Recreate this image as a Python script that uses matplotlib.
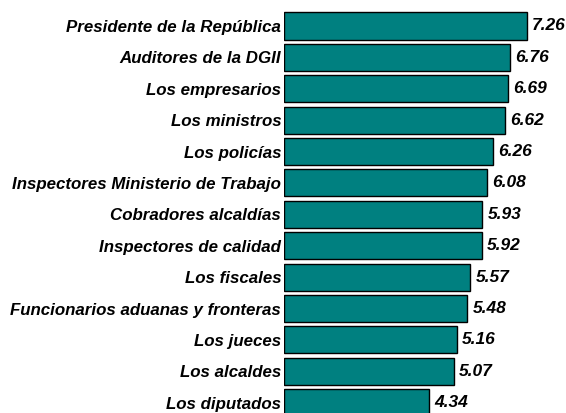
import matplotlib
matplotlib.use("Agg")
import matplotlib.pyplot as plt

# average score per institution, top to bottom
labels = [
    "Presidente de la República",
    "Auditores de la DGII",
    "Los empresarios",
    "Los ministros",
    "Los policías",
    "Inspectores Ministerio de Trabajo",
    "Cobradores alcaldías",
    "Inspectores de calidad",
    "Los fiscales",
    "Funcionarios aduanas y fronteras",
    "Los jueces",
    "Los alcaldes",
    "Los diputados",
]
scores = [7.26, 6.76, 6.69, 6.62, 6.26, 6.08, 5.93, 5.92, 5.57, 5.48, 5.16, 5.07, 4.34]

plt.rcParams["font.family"] = "Liberation Sans"

fig = plt.figure(figsize=(5.66, 4.13), dpi=100)
ax = fig.add_axes([284 / 566, 0, 1 - 284 / 566, 1])

pos = list(range(len(labels)))
ax.barh(pos, scores, height=0.86, color="#008080", edgecolor="black", linewidth=1)

for y, v in zip(pos, scores):
    ax.text(v + 0.15, y, f"{v:.2f}", ha="left", va="center",
            fontsize=12.5, fontweight="bold", fontstyle="italic")

ax.set_xlim(0, 8.43)
ax.set_ylim(12.325, -0.828)
ax.set_yticks(pos)
ax.set_yticklabels(labels, fontsize=12.2, fontweight="bold", fontstyle="italic")
ax.tick_params(axis="y", length=0, pad=2)
ax.set_xticks([])
for s in ax.spines.values():
    s.set_visible(False)

fig.savefig("out.png", dpi=100)
